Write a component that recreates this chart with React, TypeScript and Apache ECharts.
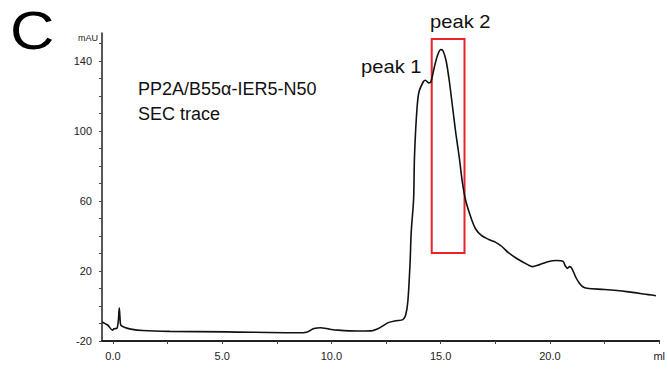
import React, { useEffect, useRef } from "react";
import * as echarts from "echarts";

const volumeMl = [
  -0.5, -0.23, -0.02, 0.05, 0.18, 0.25, 0.29, 0.32, 0.36, 0.55, 0.82, 1.36, 2.6, 5.2, 8.5, 8.9, 9.2, 9.5, 9.9,
  10.3, 11.2, 11.8, 12.2, 12.6, 12.95, 13.27, 13.4, 13.5, 13.6, 13.65, 13.76, 13.8, 13.9, 14.0, 14.2, 14.3, 14.45,
  14.55, 14.7, 14.85, 15.0, 15.1, 15.25, 15.4, 15.55, 15.7, 15.85, 16.0, 16.15, 16.4, 16.6, 16.85, 17.2, 17.5,
  17.8, 18.1, 18.5, 19.0, 19.2, 19.5, 19.9, 20.3, 20.6, 20.7, 20.8, 20.9, 21.0, 21.2, 21.35, 21.5, 21.7, 22.5,
  23.5, 24.5, 24.85,
];
const absorbanceMAU = [
  -9.1, -11, -13.8, -13, -12.8, -8, -1.1, -6, -10.9, -12.3, -13.2, -14, -14.5, -14.8, -15.3, -14.8, -12.9, -12.4,
  -13.2, -13.8, -14.3, -14.2, -12.5, -9.5, -8.4, -7.8, -5, 3, 25, 42, 61, 85, 110, 122, 128, 129, 127.5, 128,
  136, 143, 146.5, 146, 140, 128, 113, 98, 85, 70, 60, 50, 44, 40.5, 38, 36.5, 34, 30.5, 27, 23.5, 22.5, 23.5,
  25.3, 26, 25.5, 23, 21.5, 22.5, 21.5, 16, 13, 11, 10.1, 9.4, 8.2, 6.5, 5.9,
];
const xLabelValues = [0, 5, 10, 15, 20, 25];
const xTickValues = [0, 2.5, 5, 7.5, 10, 12.5, 15, 17.5, 20, 22.5, 25];
const yLabelValues = [-20, 20, 60, 100, 140];
const yTickValues = [-20, -10, 0, 10, 20, 30, 40, 50, 60, 70, 80, 90, 100, 110, 120, 130, 140, 150];
const boxRange = { x0: 14.59, x1: 16.09, y0: 30.3, y1: 152.6 };

const FONT = "'Liberation Sans', Arial, sans-serif";

export default function App() {
  const ref = useRef<HTMLDivElement>(null);
  useEffect(() => {
    if (!ref.current) return;
    const chart = echarts.init(ref.current, null, { renderer: "svg" });
    const data = volumeMl.map((v, i) => [v, absorbanceMAU[i]]);
    chart.setOption({
      animation: false,
      grid: { left: 102, right: 5, top: 33, bottom: 30, containLabel: false },
      xAxis: {
        type: "value",
        min: -0.5,
        max: 25,
        axisLine: { show: true, onZero: false, lineStyle: { color: "#222", width: 2 } },
        axisTick: { show: true, customValues: xTickValues, length: 3, lineStyle: { color: "#444" } },
        axisLabel: {
          customValues: xLabelValues,
          formatter: (v: number) => (v === 25 ? "ml" : v.toFixed(1)),
          color: "#222",
          fontSize: 11,
          fontFamily: FONT,
          margin: 9,
        },
        splitLine: { show: false },
      },
      yAxis: {
        type: "value",
        min: -20,
        max: 156,
        axisLine: { show: true, onZero: false, lineStyle: { color: "#222", width: 1.5 } },
        axisTick: { show: true, customValues: yTickValues, length: 3, lineStyle: { color: "#444" } },
        axisLabel: {
          customValues: yLabelValues,
          color: "#222",
          fontSize: 11,
          fontFamily: FONT,
          margin: 10,
        },
        splitLine: { show: false },
      },
      series: [
        {
          type: "line",
          data,
          showSymbol: false,
          smooth: 0.3,
          lineStyle: { color: "#111", width: 1.6 },
          markArea: {
            silent: true,
            itemStyle: { color: "rgba(0,0,0,0)", borderColor: "#e8232a", borderWidth: 2 },
            data: [[{ coord: [boxRange.x0, boxRange.y1] }, { coord: [boxRange.x1, boxRange.y0] }]],
          },
        },
      ],
      graphic: [
        {
          type: "text",
          x: 10,
          y: 4,
          scaleX: 1.16,
          style: { text: "C", fontSize: 53, fontFamily: FONT, fill: "#000" },
        },
        {
          type: "text",
          x: 98,
          y: 33,
          style: { text: "mAU", fontSize: 9, fontFamily: FONT, fill: "#222", align: "right" },
        },
        {
          type: "text",
          x: 138,
          y: 76,
          style: {
            text: "PP2A/B55α-IER5-N50\nSEC trace",
            fontSize: 18,
            lineHeight: 25,
            fontFamily: FONT,
            fill: "#111",
          },
        },
        {
          type: "text",
          x: 361,
          y: 58,
          scaleX: 1.12,
          style: { text: "peak 1", fontSize: 18, fontFamily: FONT, fill: "#111" },
        },
        {
          type: "text",
          x: 430,
          y: 13,
          scaleX: 1.12,
          style: { text: "peak 2", fontSize: 18, fontFamily: FONT, fill: "#111" },
        },
      ],
    });
    return () => chart.dispose();
  }, []);
  return <div ref={ref} style={{ position: "absolute", left: 0, top: 0, width: 668, height: 371 }} />;
}
